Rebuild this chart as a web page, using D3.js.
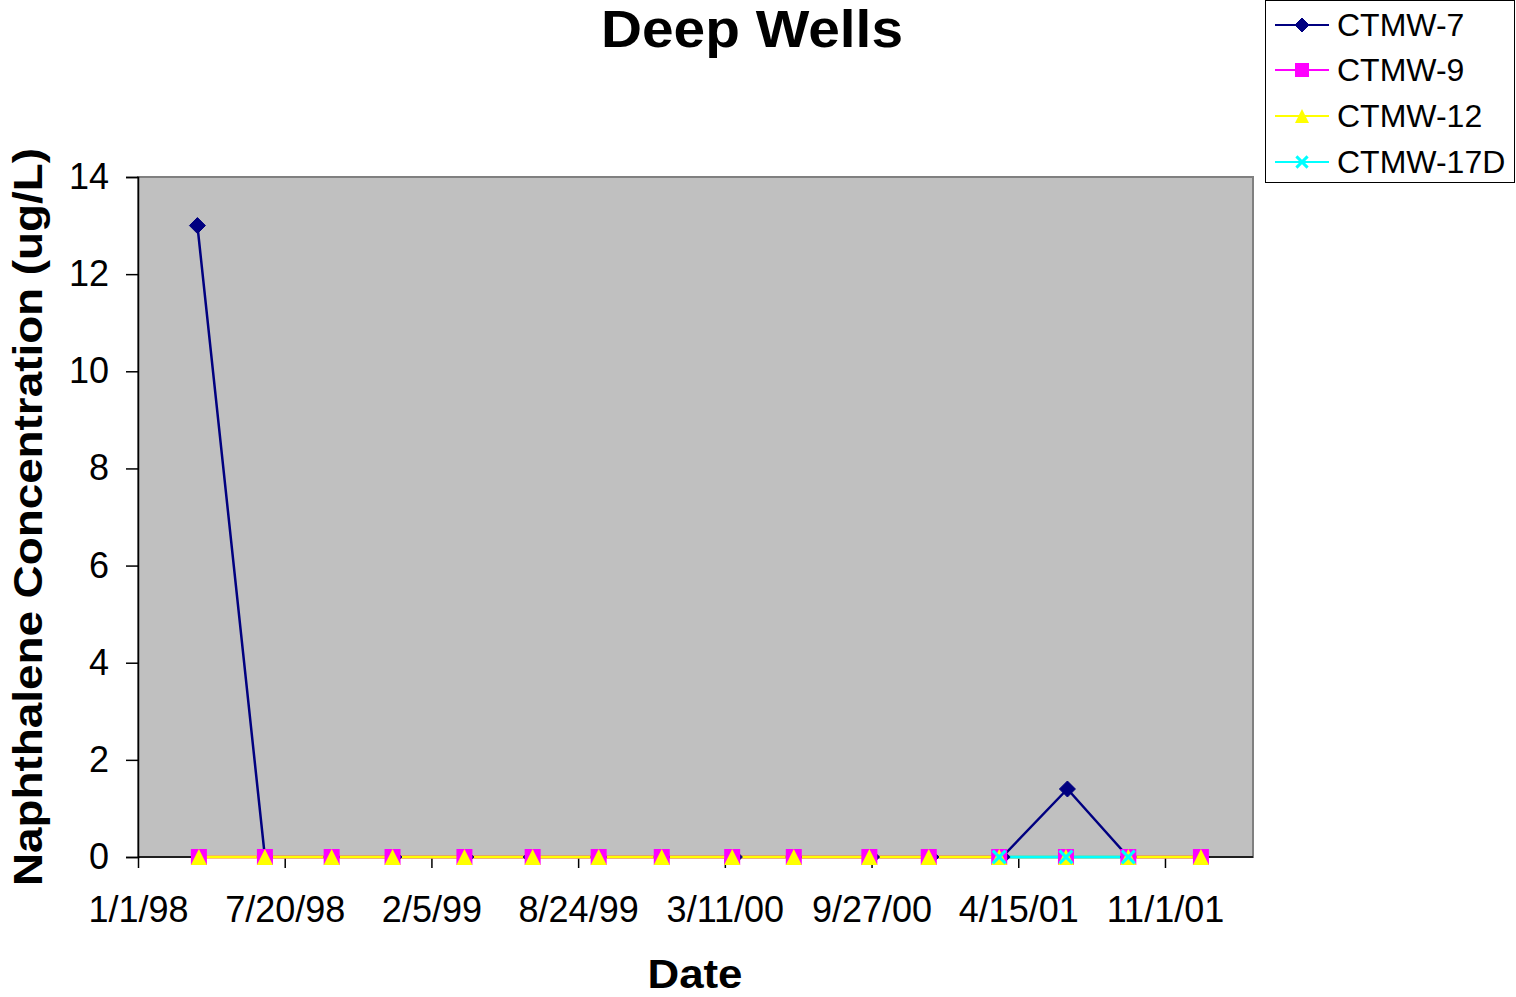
<!DOCTYPE html>
<html>
<head>
<meta charset="utf-8">
<script src="https://cdn.jsdelivr.net/npm/d3@7/dist/d3.min.js"></script>
<style>
  html, body { margin: 0; padding: 0; background: #ffffff; }
  svg { display: block; }
  text { font-family: Arial, "Liberation Sans", sans-serif; }
</style>
</head>
<body>
<svg id="chart" width="1516" height="997"></svg>
<script>
// ---------- data ----------
const title = "Deep Wells";
const xAxisTitle = "Date";
const yAxisTitle = "Naphthalene Concentration (ug/L)";
const xTickLabels = ["1/1/98", "7/20/98", "2/5/99", "8/24/99", "3/11/00", "9/27/00", "4/15/01", "11/1/01"];
const xDomainLabels = ["1/1/98", "3/1/02"];
const yTickValues = [0, 2, 4, 6, 8, 10, 12, 14];

const seriesNames = ["CTMW-7", "CTMW-9", "CTMW-12", "CTMW-17D"];

const datesCTMW7 = ["3/23/98", "6/23/98", "9/22/98", "12/16/98", "3/24/99", "6/21/99", "9/21/99", "12/16/99",
                    "3/24/00", "6/13/00", "9/27/00", "12/17/00", "3/24/01", "6/21/01", "9/12/01", "12/20/01"];
const valuesCTMW7 = [13, 0, 0, 0, 0, 0, 0, 0, 0, 0, 0, 0, 0, 1.4, 0, 0];

const datesCTMW9 = ["3/25/98", "6/23/98", "9/22/98", "12/14/98", "3/22/99", "6/23/99", "9/21/99", "12/16/99",
                    "3/21/00", "6/13/00", "9/24/00", "12/14/00", "3/20/01", "6/19/01", "9/12/01", "12/20/01"];
const valuesCTMW9 = [0, 0, 0, 0, 0, 0, 0, 0, 0, 0, 0, 0, 0, 0, 0, 0];

const datesCTMW12 = ["3/25/98", "6/23/98", "9/22/98", "12/14/98", "3/22/99", "6/23/99", "9/21/99", "12/16/99",
                     "3/21/00", "6/13/00", "9/24/00", "12/14/00", "3/20/01", "6/19/01", "9/12/01", "12/20/01"];
const valuesCTMW12 = [0, 0, 0, 0, 0, 0, 0, 0, 0, 0, 0, 0, 0, 0, 0, 0];

const datesCTMW17D = ["3/20/01", "6/19/01", "9/12/01"];
const valuesCTMW17D = [0, 0, 0];

const seriesColors = ["#000080", "#FF00FF", "#FFFF00", "#00FFFF"];
const seriesMarkers = ["diamond", "square", "triangle", "x"];

// ---------- helpers ----------
const parse = d3.timeParse("%m/%d/%y");
function mk(dates, values) { return dates.map((d, i) => ({ date: parse(d), value: values[i] })); }
const series = [
  mk(datesCTMW7, valuesCTMW7),
  mk(datesCTMW9, valuesCTMW9),
  mk(datesCTMW12, valuesCTMW12),
  mk(datesCTMW17D, valuesCTMW17D)
];

const svg = d3.select("#chart");
const plot = { left: 138, top: 177, right: 1253, bottom: 857 };

const x = d3.scaleTime().domain(xDomainLabels.map(parse)).range([plot.left, plot.right]);
const y = d3.scaleLinear().domain([0, 14]).range([plot.bottom, plot.top]);

// plot area
svg.append("rect")
  .attr("x", plot.left).attr("y", plot.top)
  .attr("width", plot.right - plot.left).attr("height", plot.bottom - plot.top)
  .attr("fill", "#C0C0C0").attr("stroke", "#808080").attr("stroke-width", 2);

// axes
const xAxis = d3.axisBottom(x)
  .tickValues(xTickLabels.map(parse))
  .tickFormat((d, i) => xTickLabels[i])
  .tickSize(11).tickPadding(28);
const gx = svg.append("g").attr("transform", `translate(0,${plot.bottom})`).call(xAxis);
gx.select(".domain").attr("stroke", "#000").attr("stroke-width", 1.5);
gx.selectAll(".tick line").attr("stroke", "#000").attr("stroke-width", 1.5);
gx.selectAll(".tick text").attr("font-size", 36).attr("fill", "#000")
  .attr("font-family", "Arial, 'Liberation Sans', sans-serif");

const yAxis = d3.axisLeft(y).tickValues(yTickValues).tickSize(12).tickPadding(17).tickFormat(d3.format("d"));
const gy = svg.append("g").attr("transform", `translate(${plot.left},0)`).call(yAxis);
gy.select(".domain").attr("stroke", "#000").attr("stroke-width", 1.5);
gy.selectAll(".tick line").attr("stroke", "#000").attr("stroke-width", 1.5);
gy.selectAll(".tick text").attr("font-size", 36).attr("fill", "#000")
  .attr("font-family", "Arial, 'Liberation Sans', sans-serif");
gx.selectAll(".domain").attr("d", `M${plot.left},0H${plot.right}`);

// marker drawing
function drawMarker(g, type, color, cx, cy, s) {
  if (type === "diamond") {
    g.append("path").attr("d", `M${cx},${cy - s}L${cx + s},${cy}L${cx},${cy + s}L${cx - s},${cy}Z`)
      .attr("fill", color).attr("stroke", color).attr("stroke-width", 1);
  } else if (type === "square") {
    g.append("rect").attr("x", cx - s).attr("y", cy - s).attr("width", 2 * s).attr("height", 2 * s)
      .attr("fill", color);
  } else if (type === "triangle") {
    g.append("path").attr("d", `M${cx},${cy - s}L${cx + s},${cy + s}L${cx - s},${cy + s}Z`)
      .attr("fill", color);
  } else if (type === "x") {
    const r = s * 0.8;
    g.append("path").attr("d", `M${cx - r},${cy - r}L${cx + r},${cy + r}M${cx + r},${cy - r}L${cx - r},${cy + r}`)
      .attr("stroke", color).attr("stroke-width", 3).attr("fill", "none");
  }
}

// lines
const line = d3.line().x(d => x(d.date)).y(d => y(d.value));
const gLines = svg.append("g");
series.forEach((s, i) => {
  gLines.append("path").datum(s).attr("d", line)
    .attr("fill", "none").attr("stroke", seriesColors[i]).attr("stroke-width", i === 0 ? 2.5 : 3);
});
// markers
const gMarks = svg.append("g");
series.forEach((s, i) => {
  s.forEach(d => drawMarker(gMarks, seriesMarkers[i], seriesColors[i], x(d.date), y(d.value), 8));
});

// title
svg.append("text").attr("x", 752).attr("y", 47).attr("text-anchor", "middle")
  .attr("font-size", 51).attr("font-weight", "bold").attr("textLength", 302)
  .attr("lengthAdjust", "spacingAndGlyphs").text(title);

// axis titles
svg.append("text").attr("x", 695).attr("y", 988).attr("text-anchor", "middle")
  .attr("font-size", 41).attr("font-weight", "bold").attr("textLength", 95)
  .attr("lengthAdjust", "spacingAndGlyphs").text(xAxisTitle);

svg.append("text").attr("transform", "translate(42,517) rotate(-90)").attr("text-anchor", "middle")
  .attr("font-size", 41).attr("font-weight", "bold").attr("textLength", 738)
  .attr("lengthAdjust", "spacingAndGlyphs").text(yAxisTitle);

// legend
const lg = svg.append("g");
lg.append("rect").attr("x", 1265.5).attr("y", 0.5).attr("width", 249).attr("height", 182)
  .attr("fill", "#fff").attr("stroke", "#000").attr("stroke-width", 1);
const legendRowY = [25, 70, 116, 162];
seriesNames.forEach((name, i) => {
  const cy = legendRowY[i];
  lg.append("line").attr("x1", 1275).attr("x2", 1329).attr("y1", cy).attr("y2", cy)
    .attr("stroke", seriesColors[i]).attr("stroke-width", 2);
  drawMarker(lg, seriesMarkers[i], seriesColors[i], 1302, cy, 7);
  lg.append("text").attr("x", 1337).attr("y", cy + 11).attr("font-size", 32).attr("fill", "#000").text(name);
});
</script>
</body>
</html>
